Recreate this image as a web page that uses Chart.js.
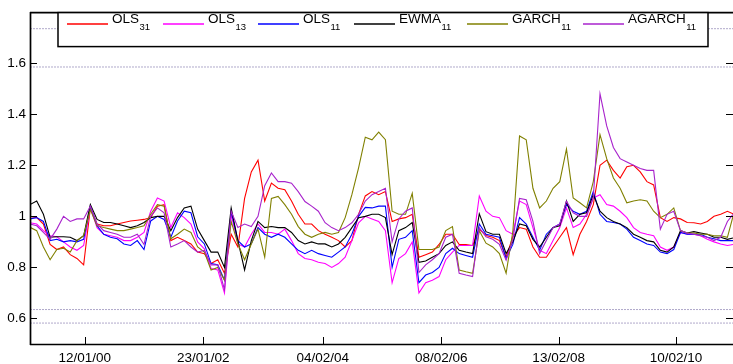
<!DOCTYPE html>
<html><head><meta charset="utf-8">
<script src="https://cdn.jsdelivr.net/npm/chart.js@4/dist/chart.umd.min.js"></script>
<style>html,body{margin:0;padding:0;background:#fff;overflow:hidden}#wrap{width:733px;height:364px;position:relative}</style>
</head><body><div id="wrap"><canvas id="c" width="733" height="364"></canvas></div>
<script>
// observation index (weeks from start)
const weeks = [0,6,12,18,24,30,36,42,48,54,60,66,72,78,84,90,96,102,108,114,120,126,132,138,144,150,156,162,168,174,180,186,192,198,204,210,216,222,228,234,240,246,252,258,264,270,276,282,288,294,300,306,312,318,324,330,336,342,348,354,360,366,372,378,384,390,396,402,408,414,420,426,432,438,444,450,456,462,468,474,480,486,492,498,504,510,516,522,528,534,540,546,552,558,564,570,576,582,588,594,600,606,612,618,624,629];
const tickWeeks = [49,155,262,368,473,578];
const tickLabels = ['12/01/00','23/01/02','04/02/04','08/02/06','13/02/08','10/02/10'];
const yTicks = [0.6,0.8,1.0,1.2,1.4,1.6];
const bandLevels = [1.735,1.585,0.635,0.582];

const ols31 = [1.0,0.995,0.97,0.89,0.87,0.88,0.85,0.835,0.81,1.033,0.97,0.963,0.963,0.97,0.976,0.982,0.985,0.988,0.995,1.04,1.046,0.905,0.918,0.905,0.892,0.86,0.854,0.815,0.83,0.777,0.93,0.88,1.07,1.174,1.22,1.06,1.13,1.11,1.104,1.06,1.008,0.97,0.97,0.944,0.93,0.918,0.905,0.88,0.905,1.008,1.08,1.097,1.085,1.097,0.98,0.99,0.995,1.008,0.84,0.85,0.86,0.89,0.93,0.93,0.89,0.89,0.886,0.95,0.925,0.918,0.905,0.84,0.92,0.956,0.95,0.88,0.84,0.84,0.88,0.918,0.956,0.85,0.93,0.98,1.046,1.2,1.22,1.18,1.15,1.194,1.2,1.174,1.136,1.123,0.995,0.98,0.995,0.99,0.976,0.975,0.97,0.98,1.0,1.008,1.02,1.01];
const ols13 = [0.975,0.97,0.944,0.924,0.92,0.9,0.88,0.867,0.886,1.033,0.956,0.93,0.924,0.918,0.905,0.905,0.918,0.937,1.02,1.072,1.06,0.956,1.014,0.995,0.97,0.9,0.873,0.796,0.79,0.70,1.008,0.892,0.88,0.93,0.97,0.937,0.937,0.93,0.95,0.905,0.854,0.835,0.83,0.82,0.815,0.80,0.815,0.84,0.905,0.975,1.0,0.99,0.98,0.944,0.74,0.835,0.854,0.90,0.70,0.74,0.75,0.764,0.83,0.86,0.886,0.886,0.886,1.08,1.02,1.0,0.995,0.944,0.93,1.06,1.046,0.956,0.867,0.854,0.905,0.956,1.033,0.956,0.97,1.008,1.072,1.085,1.046,1.04,1.02,0.995,0.956,0.937,0.93,0.924,0.88,0.867,0.88,0.937,0.93,0.93,0.924,0.91,0.9,0.892,0.886,0.89];
const ols11 = [0.99,0.995,0.98,0.905,0.91,0.9,0.905,0.9,0.91,1.04,0.963,0.93,0.918,0.912,0.892,0.886,0.905,0.87,0.982,1.0,0.988,0.918,0.982,1.02,1.014,0.92,0.892,0.815,0.81,0.75,1.02,0.905,0.88,0.892,0.956,0.93,0.918,0.93,0.918,0.892,0.867,0.854,0.867,0.854,0.847,0.84,0.86,0.88,0.93,1.0,1.035,1.033,1.04,1.04,0.80,0.91,0.918,0.944,0.74,0.77,0.78,0.80,0.854,0.875,0.854,0.847,0.84,0.97,0.93,0.924,0.918,0.835,0.89,0.995,0.97,0.918,0.867,0.93,0.956,0.97,1.046,1.02,1.008,1.02,1.097,1.008,0.98,0.976,0.97,0.95,0.918,0.905,0.892,0.886,0.86,0.854,0.87,0.937,0.93,0.93,0.93,0.918,0.912,0.905,0.905,0.905];
const ewma11 = [1.046,1.06,1.008,0.918,0.92,0.92,0.918,0.905,0.924,1.046,0.988,0.976,0.976,0.97,0.963,0.956,0.963,0.976,0.995,1.0,1.0,0.944,0.995,1.033,1.04,0.95,0.905,0.86,0.86,0.80,1.033,0.905,0.79,0.905,0.98,0.956,0.96,0.956,0.956,0.937,0.905,0.892,0.9,0.892,0.892,0.88,0.892,0.918,0.956,0.995,1.0,1.008,1.008,0.995,0.85,0.944,0.956,0.976,0.82,0.825,0.84,0.854,0.886,0.9,0.867,0.86,0.854,1.01,0.94,0.93,0.93,0.854,0.9,0.97,0.963,0.91,0.88,0.918,0.956,0.963,1.06,0.98,1.008,1.014,1.085,1.02,0.995,0.98,0.97,0.956,0.93,0.918,0.905,0.9,0.867,0.86,0.88,0.944,0.935,0.94,0.935,0.93,0.918,0.918,0.91,0.915];
const garch11 = [0.957,0.944,0.88,0.83,0.87,0.875,0.86,0.905,0.924,1.027,0.963,0.956,0.95,0.944,0.944,0.95,0.956,0.963,1.008,1.046,1.04,0.912,0.93,0.95,0.937,0.88,0.86,0.79,0.80,0.75,0.98,0.892,0.83,0.892,0.95,0.84,1.07,1.078,1.046,1.008,0.96,0.93,0.918,0.93,0.937,0.93,0.937,0.995,1.085,1.19,1.31,1.30,1.33,1.30,1.02,1.008,1.008,1.09,0.87,0.87,0.87,0.88,0.944,0.96,0.79,0.783,0.777,0.944,0.895,0.88,0.854,0.777,0.94,1.315,1.30,1.11,1.033,1.06,1.11,1.136,1.264,1.072,1.053,1.033,1.136,1.32,1.226,1.15,1.11,1.053,1.06,1.065,1.06,1.02,0.995,1.008,1.033,0.944,0.935,0.935,0.93,0.93,0.924,0.924,0.918,1.0];
const agarch11 = [0.97,0.963,0.937,0.91,0.95,1.0,0.98,0.99,0.99,1.04,0.97,0.944,0.937,0.93,0.918,0.918,0.93,0.89,1.0,1.033,1.014,0.88,0.892,0.905,0.88,0.86,0.867,0.81,0.81,0.713,1.02,0.956,0.97,0.96,1.0,1.12,1.17,1.136,1.136,1.13,1.097,1.058,1.04,1.02,0.975,0.956,0.944,0.956,0.975,1.008,1.06,1.085,1.097,1.11,0.9,0.99,1.02,1.033,0.78,0.81,0.83,0.854,0.918,0.93,0.777,0.77,0.764,0.956,0.92,0.91,0.89,0.828,0.91,1.07,1.065,0.98,0.854,0.905,0.956,0.97,1.06,1.014,1.0,1.0,1.072,1.48,1.354,1.27,1.226,1.213,1.2,1.187,1.18,1.18,0.95,1.008,1.02,0.944,0.935,0.93,0.924,0.918,0.905,0.918,0.98,1.008];

const seriesNames = ['OLS','OLS','OLS','EWMA','GARCH','AGARCH'];
const seriesSubs = ['31','13','11','11','11','11'];
const seriesValues = [ols31, ols13, ols11, ewma11, garch11, agarch11];
const seriesColors = ['#ff0000','#ff00ff','#0000ff','#000000','#808000','#a823cc'];

const FONT = '"Liberation Sans", Arial, Helvetica, sans-serif';

const datasets = [];
bandLevels.forEach((lv) => {
  datasets.push({
    label: '_band', data: [{x: 0, y: lv}, {x: 629, y: lv}],
    borderColor: 'rgba(150,140,185,0.75)', borderWidth: 1, borderDash: [2, 1],
    pointRadius: 0, order: 20, isBand: true
  });
});
seriesValues.forEach((vals, i) => {
  datasets.push({
    label: seriesNames[i] + seriesSubs[i],
    data: weeks.map((w, j) => ({x: w, y: vals[j]})),
    borderColor: seriesColors[i], borderWidth: 1.1, pointRadius: 0,
    tension: 0, fill: false, order: 10 - i
  });
});

function seg(ctx, x1, y1, x2, y2) { ctx.beginPath(); ctx.moveTo(x1, y1); ctx.lineTo(x2, y2); ctx.stroke(); }

const framePlugin = {
  id: 'frame',
  afterDraw(chart) {
    const ctx = chart.ctx, a = chart.chartArea, xs = chart.scales.x, ys = chart.scales.y;
    ctx.save();
    ctx.strokeStyle = '#000';
    ctx.lineWidth = 1;
    yTicks.forEach(v => {
      const py = Math.round(ys.getPixelForValue(v)) + 0.5;
      seg(ctx, a.left, py, a.left + 7, py);
      seg(ctx, a.right - 7, py, a.right, py);
    });
    tickWeeks.forEach(v => {
      const px = Math.round(xs.getPixelForValue(v)) + 0.5;
      seg(ctx, px, a.bottom, px, a.bottom - 7);
    });
    ctx.lineWidth = 1.7;
    seg(ctx, a.left + 0.5, a.top, a.left + 0.5, a.bottom + 1);
    seg(ctx, a.left, a.bottom + 0.5, a.right, a.bottom + 0.5);
    seg(ctx, a.left, a.top + 0.5, a.right, a.top + 0.5);
    // legend box
    const bx = 58, by = a.top + 0.5, bw = 650, bh = 34;
    ctx.fillStyle = '#fff';
    ctx.fillRect(bx, by, bw, bh);
    ctx.lineWidth = 1.5;
    ctx.strokeRect(bx, by, bw, bh);
    const starts = [67, 163, 258, 354, 467, 583];
    ctx.textBaseline = 'alphabetic';
    ctx.textAlign = 'left';
    seriesNames.forEach((nm, i) => {
      const x0 = starts[i];
      ctx.strokeStyle = seriesColors[i];
      ctx.lineWidth = 1.5;
      seg(ctx, x0, 24, x0 + 41, 24);
      ctx.fillStyle = '#000';
      ctx.font = '13.5px ' + FONT;
      ctx.fillText(nm, x0 + 45, 23);
      const w = ctx.measureText(nm).width;
      ctx.font = '9.5px ' + FONT;
      ctx.fillText(seriesSubs[i], x0 + 45 + w + 0.5, 30);
    });
    ctx.restore();
  }
};

new Chart(document.getElementById('c'), {
  type: 'line',
  data: { datasets },
  options: {
    responsive: false, animation: false, devicePixelRatio: 1,
    layout: { padding: { top: 7, left: 0, right: 0, bottom: 0 } },
    plugins: { legend: { display: false }, tooltip: { enabled: false } },
    scales: {
      x: {
        type: 'linear', min: 0, max: 629,
        grid: { display: false, drawTicks: false }, border: { display: false },
        afterBuildTicks: s => { s.ticks = tickWeeks.map(v => ({ value: v })); },
        afterFit: s => { s.height = 20; },
        ticks: {
          autoSkip: false, maxRotation: 0, padding: 6, color: '#000',
          font: { family: FONT, size: 13.5 },
          callback: v => { const i = tickWeeks.indexOf(v); return i >= 0 ? tickLabels[i] : ''; }
        }
      },
      y: {
        type: 'linear', min: 0.5, max: 1.8,
        grid: { display: false, drawTicks: false }, border: { display: false },
        afterBuildTicks: s => { s.ticks = yTicks.map(v => ({ value: v })); },
        afterFit: s => { s.width = 30; },
        ticks: {
          padding: 4, color: '#000', font: { family: FONT, size: 13.5 },
          callback: v => String(Math.round(v * 10) / 10)
        }
      }
    }
  },
  plugins: [framePlugin]
});
</script>
</body></html>
